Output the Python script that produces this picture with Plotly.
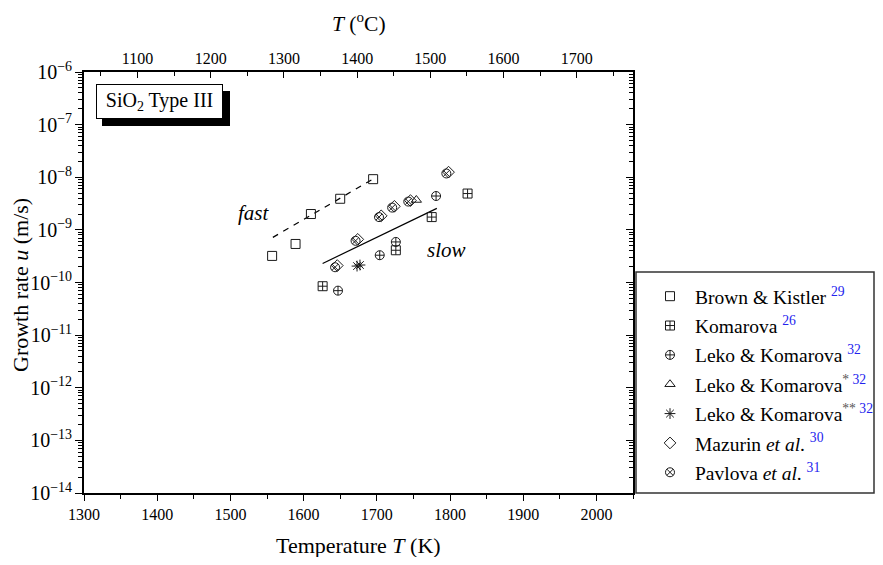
import plotly.graph_objects as go

# ---- data ----
brown_T = [1557, 1589, 1610, 1650, 1695]
brown_u = [3.2e-10, 5.4e-10, 2.0e-9, 3.9e-9, 9.2e-9]

komarova_T = [1626, 1726, 1775, 1824]
komarova_u = [8.5e-11, 4.1e-10, 1.75e-9, 4.9e-9]

leko_T = [1647, 1704, 1726, 1781]
leko_u = [7.0e-11, 3.3e-10, 5.9e-10, 4.4e-9]

leko1_T = [1754]
leko1_u = [3.7e-9]

leko2_T = [1673, 1677]
leko2_u = [2.05e-10, 2.15e-10]

mazurin_T = [1646, 1674, 1706, 1724, 1746, 1798]
mazurin_u = [2.1e-10, 6.6e-10, 1.85e-9, 2.8e-9, 3.6e-9, 1.25e-8]

pavlova_T = [1643, 1671, 1703, 1721, 1743, 1795]
pavlova_u = [1.95e-10, 6.2e-10, 1.75e-9, 2.65e-9, 3.45e-9, 1.18e-8]

fast_T = [1558, 1694]
fast_u = [7.2e-10, 9.1e-9]
slow_T = [1626, 1782]
slow_u = [2.3e-10, 2.56e-9]

FONT = "'Liberation Serif', 'Times New Roman', Times, serif"
BLUE = "#2222ee"
MK = "#1a1a1a"

def sup(n, pre=""):
    return f"<sup>{pre}<span style='color:{BLUE}'>{n}</span></sup>"

series = [
    (brown_T, brown_u, "square-open", "Brown &amp; Kistler " + sup(29)),
    (komarova_T, komarova_u, "square-cross-open", "Komarova " + sup(26)),
    (leko_T, leko_u, "circle-cross-open", "Leko &amp; Komarova " + sup(32)),
    (leko1_T, leko1_u, "triangle-up-open", "Leko &amp; Komarova" + sup(32, "<span style='color:#555'>*</span> ")),
    (leko2_T, leko2_u, "asterisk-open", "Leko &amp; Komarova" + sup(32, "<span style='color:#555'>**</span> ")),
    (mazurin_T, mazurin_u, "diamond-open", "Mazurin <i>et al</i>. " + sup(30)),
    (pavlova_T, pavlova_u, "circle-x-open", "Pavlova <i>et al</i>. " + sup(31)),
]

fig = go.Figure()

fig.add_trace(go.Scatter(x=fast_T, y=fast_u, mode="lines",
                         line=dict(color="black", width=1.2, dash="6px,6px"),
                         showlegend=False, hoverinfo="skip"))
fig.add_trace(go.Scatter(x=slow_T, y=slow_u, mode="lines",
                         line=dict(color="black", width=1.2),
                         showlegend=False, hoverinfo="skip"))

for i, (xs, ys, sym, name) in enumerate(series):
    fig.add_trace(go.Scatter(
        x=xs, y=ys, mode="markers", name=name, legendgroup=f"g{i}",
        marker=dict(symbol=sym, size=9, color=MK, line=dict(color=MK, width=1)),
    ))

# dummy traces to register the mirror axes
fig.add_trace(go.Scatter(x=[None], y=[None], xaxis="x2", yaxis="y",
                         showlegend=False, hoverinfo="skip"))
fig.add_trace(go.Scatter(x=[None], y=[None], xaxis="x", yaxis="y2",
                         showlegend=False, hoverinfo="skip"))

tickfont = dict(family=FONT, size=16, color="black")
K0 = 273.15

# page body has an 8px margin on every side: the figure is made smaller so the page is 883x565
OFF = 8
L, T_, PW, PH = 84 - OFF, 72 - OFF, 549, 421
W, H = 883 - 2 * OFF, 565 - 2 * OFF

def px(x):  # reference pixel x -> paper
    return (x - 84) / PW

def py(y):  # reference pixel y -> paper
    return (493 - y) / PH

fig.update_layout(
    width=W, height=H,
    margin=dict(l=L, r=W - L - PW, t=T_, b=H - T_ - PH, pad=0, autoexpand=False),
    paper_bgcolor="white", plot_bgcolor="white",
    font=dict(family=FONT, color="black"),
    xaxis=dict(range=[1300, 2050], tick0=1300, dtick=100, showgrid=False, zeroline=False,
               showline=True, linecolor="black", linewidth=1.5,
               ticks="outside", ticklen=6, tickwidth=1.2, tickcolor="black",
               minor=dict(ticks="outside", ticklen=4, dtick=50, tickcolor="black", tickwidth=1.2, showgrid=False),
               tickfont=tickfont),
    xaxis2=dict(range=[1300 - K0, 2050 - K0], tick0=1000, dtick=100, overlaying="x", side="top",
                anchor="y", showgrid=False, zeroline=False,
                showline=True, linecolor="black", linewidth=1.5,
                ticks="inside", ticklen=6, tickwidth=1.2, tickcolor="black",
                minor=dict(ticks="inside", ticklen=4, dtick=50, tickcolor="black", tickwidth=1.2, showgrid=False),
                tickfont=tickfont),
    yaxis=dict(type="log", range=[-14, -6], dtick=1, exponentformat="power", showexponent="all",
               showgrid=False, zeroline=False, showline=True, linecolor="black", linewidth=1.5,
               ticks="outside", ticklen=7, tickwidth=1.2, tickcolor="black",
               minor=dict(ticks="outside", ticklen=4, dtick="D1", tickcolor="black", tickwidth=1, showgrid=False),
               tickfont=tickfont),
    yaxis2=dict(type="log", range=[-14, -6], dtick=1, overlaying="y", side="right", anchor="x",
                showticklabels=False, showgrid=False, zeroline=False,
                showline=True, linecolor="black", linewidth=1.5,
                ticks="inside", ticklen=7, tickwidth=1.2, tickcolor="black",
                minor=dict(ticks="inside", ticklen=4, dtick="D1", tickcolor="black", tickwidth=1, showgrid=False)),
    legend=dict(xref="container", yref="container",
                x=(645 - OFF) / W, y=1 - (277 - OFF) / H, xanchor="left", yanchor="top",
                bgcolor="rgba(0,0,0,0)", borderwidth=0,
                font=dict(family=FONT, size=19.5, color="black"),
                tracegroupgap=1, itemwidth=40),
    showlegend=True,
)

# legend frame
fig.add_shape(type="rect", xref="paper", yref="paper",
              x0=px(636), x1=px(874), y0=py(493), y1=py(272),
              line=dict(color="#333", width=1.5), fillcolor="rgba(0,0,0,0)")

# SiO2 label shadow
fig.add_shape(type="rect", xref="paper", yref="paper",
              x0=px(102), x1=px(230), y0=py(126), y1=py(91),
              line=dict(width=0), fillcolor="black", layer="above")

annots = [
    dict(text="SiO<sub>2</sub> Type III", xref="paper", yref="paper",
         x=px(159.5), y=py(101), xanchor="center", yanchor="middle", showarrow=False,
         font=dict(family=FONT, size=20, color="black"),
         bgcolor="white", bordercolor="black", borderwidth=1, borderpad=2,
         width=121, height=29),
    dict(text="<i>fast</i>", xref="x", yref="y", x=1532, y=-8.68, showarrow=False,
         xanchor="center", yanchor="middle",
         font=dict(family=FONT, size=21, color="black")),
    dict(text="<i>slow</i>", xref="x", yref="y", x=1795, y=-9.38, showarrow=False,
         xanchor="center", yanchor="middle",
         font=dict(family=FONT, size=21, color="black")),
    dict(text="Temperature <i>T</i> (K)", xref="paper", yref="paper", x=0.5, y=py(545),
         xanchor="center", yanchor="middle",
         showarrow=False, font=dict(family=FONT, size=22, color="black")),
    dict(text="<i>T</i> (<sup>o</sup>C)", xref="paper", yref="paper", x=0.5, y=py(22),
         xanchor="center", yanchor="middle",
         showarrow=False, font=dict(family=FONT, size=21.5, color="black")),
    dict(text="Growth rate <i>u</i> (m/s)", xref="paper", yref="paper", x=px(20), y=py(285),
         xanchor="center", yanchor="middle",
         textangle=-90, showarrow=False, font=dict(family=FONT, size=22, color="black")),
]
fig.update_layout(annotations=annots)

fig.write_html("out.html")
